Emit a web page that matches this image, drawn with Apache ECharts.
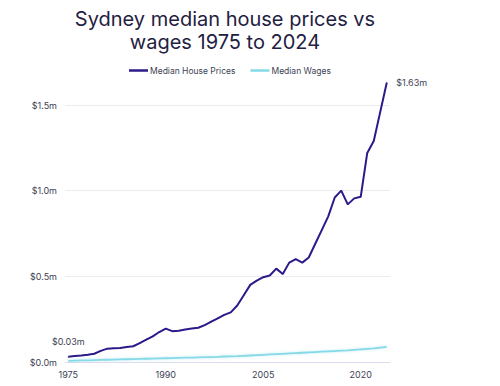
<!DOCTYPE html>
<html>
<head>
<meta charset="utf-8">
<script src="https://cdn.jsdelivr.net/npm/echarts@6/dist/echarts.min.js"></script>
<style>html,body{margin:0;padding:0;background:#fff}#c{width:500px;height:386px}</style>
</head>
<body>
<div id="c"></div>
<script>
const years = [];
for (let y = 1975; y <= 2024; y++) years.push(String(y));
// values in $ millions
const housePrices = [0.03,0.035,0.038,0.042,0.048,0.065,0.078,0.080,0.082,0.087,
  0.092,0.110,0.130,0.150,0.175,0.195,0.180,0.183,0.190,0.195,
  0.200,0.215,0.235,0.255,0.275,0.290,0.330,0.390,0.450,0.475,
  0.495,0.505,0.545,0.513,0.580,0.600,0.580,0.610,0.690,0.770,
  0.850,0.960,1.000,0.920,0.955,0.965,1.220,1.290,1.460,1.630];
const wages = [0.007,0.008,0.009,0.010,0.011,0.012,0.013,0.014,0.015,0.016,
  0.017,0.018,0.019,0.020,0.021,0.022,0.023,0.024,0.025,0.026,
  0.027,0.028,0.029,0.030,0.032,0.033,0.034,0.036,0.038,0.040,
  0.042,0.044,0.046,0.048,0.050,0.052,0.054,0.056,0.058,0.060,
  0.062,0.064,0.066,0.068,0.071,0.074,0.077,0.080,0.084,0.088];
const yTicks = [0, 0.5, 1.0, 1.5];
const seriesNames = ['Median House Prices', 'Median Wages'];
const titleText = 'Sydney median house prices vs\nwages 1975 to 2024';

const FONT = 'Inter, "Noto Sans", sans-serif';
const fmt = v => '$' + v.toFixed(2) + 'm';
const houseData = housePrices.map((v, i) => {
  if (i === 0) return {value: v, label: {show: true, position: 'top', distance: 10, align: 'center', formatter: () => fmt(v)}};
  if (i === housePrices.length - 1) return {value: v, label: {show: true, position: 'right', distance: 9, formatter: () => fmt(v)}};
  return v;
});

const chart = echarts.init(document.getElementById('c'), null, {renderer: 'svg'});
chart.setOption({
  animation: false,
  backgroundColor: '#ffffff',
  graphic: [{
    type: 'text', x: 225, y: 7,
    style: {text: titleText, textAlign: 'center', textVerticalAlign: 'top',
      fontFamily: FONT, fontSize: 20, lineHeight: 23, fill: '#1f2142'}
  }],
  legend: {
    data: seriesNames, left: 124, top: 61, icon: 'rect', itemWidth: 19, itemHeight: 2.5,
    itemGap: 15, textStyle: {fontFamily: FONT, fontSize: 8.5, color: '#3d3f55', padding: [0,0,0,-3]}
  },
  grid: {left: 65, right: 110, top: 105, bottom: 24, containLabel: false},
  xAxis: {
    type: 'category', data: years, boundaryGap: true,
    axisLine: {lineStyle: {color: '#dedbee', width: 1}},
    axisTick: {show: false},
    axisLabel: {interval: 14, fontFamily: FONT, fontSize: 9, color: '#3d3f55', margin: 8}
  },
  yAxis: {
    type: 'value', min: 0, max: 1.5, interval: 0.5,
    axisLine: {show: false}, axisTick: {show: false},
    splitLine: {lineStyle: {color: '#ececf0', width: 1}},
    axisLabel: {fontFamily: FONT, fontSize: 9, color: '#3d3f55', margin: 8,
      formatter: v => '$' + v.toFixed(1) + 'm'}
  },
  series: [
    {
      name: seriesNames[0], type: 'line', data: houseData,
      symbol: 'circle', symbolSize: 1, showSymbol: true, showAllSymbol: true, clip: false,
      lineStyle: {color: '#2c1a8a', width: 2},
      itemStyle: {color: '#2c1a8a'},
      label: {fontFamily: FONT, fontSize: 9, color: '#3d3f55'},
      emphasis: {disabled: true},
      z: 3
    },
    {
      name: seriesNames[1], type: 'line', data: wages, symbol: 'none',
      lineStyle: {color: '#86d9e6', width: 1.8, shadowColor: 'rgba(134,217,230,0.5)', shadowBlur: 3},
      itemStyle: {color: '#86d9e6'},
      emphasis: {disabled: true},
      z: 2
    }
  ]
});
</script>
</body>
</html>
